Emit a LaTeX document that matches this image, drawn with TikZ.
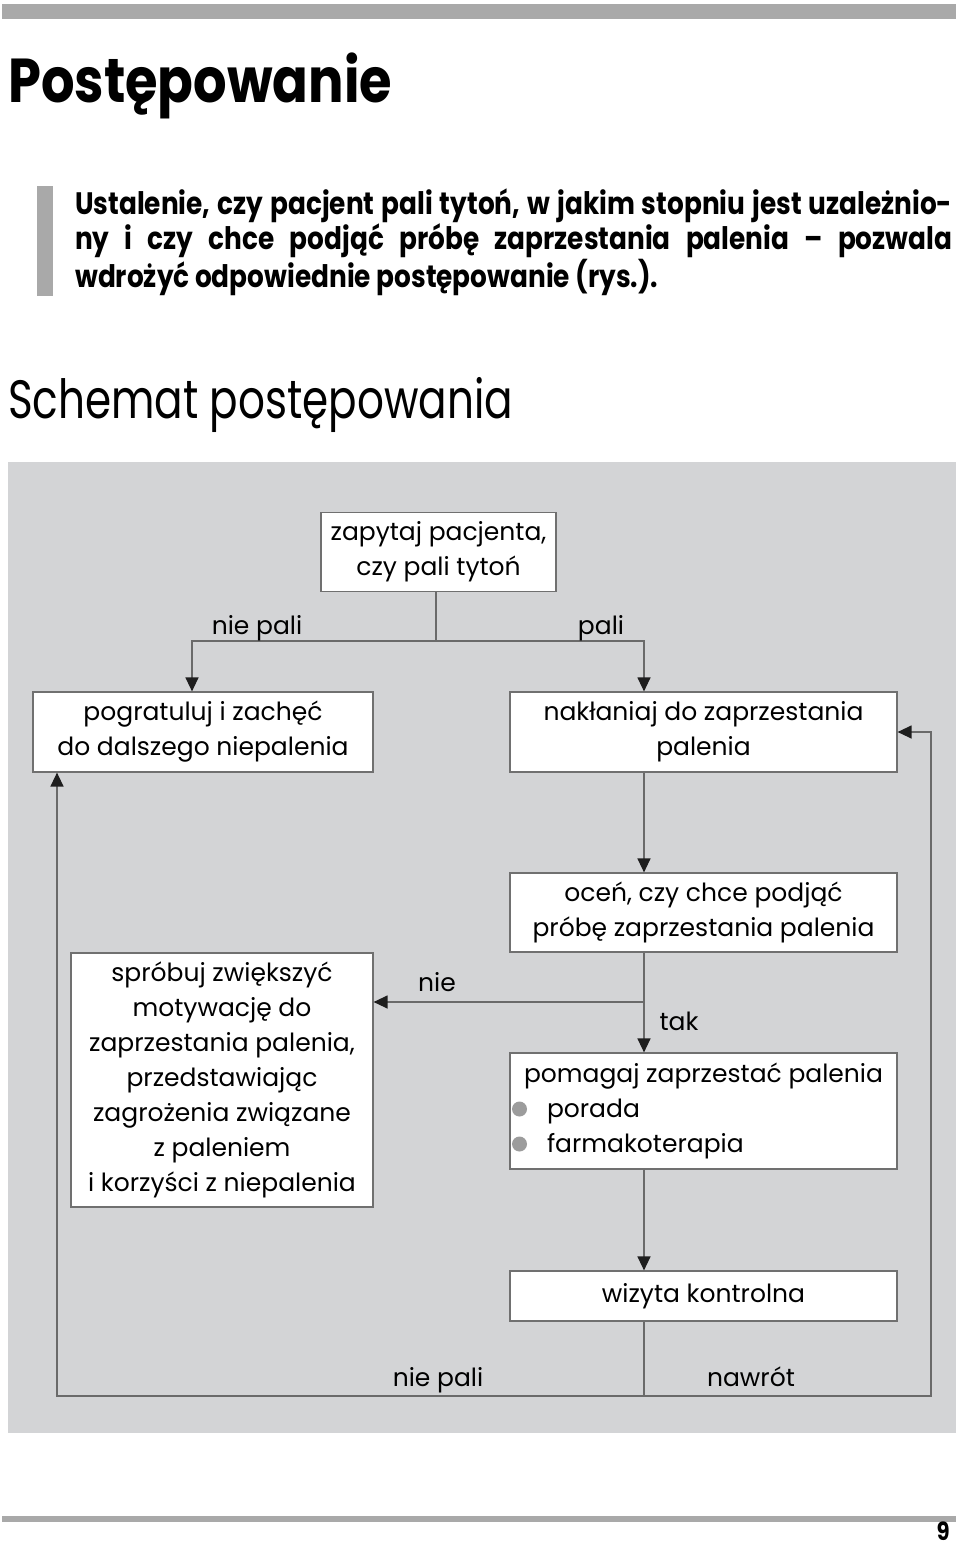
\documentclass[tikz,border=0pt]{standalone}
\usepackage{fontspec}
\setmainfont{Poppins}
\newfontfamily\condfont{Poppins}[FakeStretch=0.85]
\newfontfamily\narrowfont{Poppins}[FakeStretch=0.78]
\usepackage{tikz}
\usetikzlibrary{arrows.meta}
\definecolor{panelgray}{HTML}{D3D4D6}
\definecolor{rulegray}{HTML}{A9A9A9}
\definecolor{linegray}{HTML}{6A6A6A}
\definecolor{boxgray}{HTML}{707070}
\definecolor{tipblack}{HTML}{1E1E1E}
\definecolor{bulletgray}{HTML}{9C9C9C}
\newcommand{\diagfont}{\fontsize{25}{35}\selectfont}
\newcommand{\dotitem}{\hspace*{-12pt}\raisebox{1pt}{\tikz\fill[bulletgray] (0,0) circle (7.5pt);}\hspace{20pt}}

\begin{document}
\begin{tikzpicture}[x=1pt, y=-1pt,
  box/.style={draw=boxgray, fill=white, line width=1.2pt, inner sep=0pt,
              align=center, font=\diagfont},
  link/.style={draw=linegray, line width=1.3pt},
  arrow/.style={link, -{Triangle[length=14pt, width=13pt, color=tipblack]}},
  label/.style={font=\diagfont, anchor=base},
]
\useasboundingbox (0,0) rectangle (960,1549);

% page decoration
\fill[rulegray] (2,4) rectangle (956,19);
\node[anchor=base west, inner sep=0pt, font=\condfont\bfseries\fontsize{62}{70}\selectfont]
  (title) at (8,103) {Postępowanie};
\fill[rulegray] (37,186) rectangle (53,296);
\node[anchor=north west, inner sep=0pt, align=left,
      font=\condfont\bfseries\fontsize{31}{35}\selectfont] (intro) at (75,189) {%
  \makebox[877pt][s]{Ustalenie, czy pacjent pali tytoń, w jakim stopniu jest uzależnio-}\\
  \makebox[877pt][s]{ny i czy chce podjąć próbę zaprzestania palenia – pozwala}\\
  wdrożyć odpowiednie postępowanie (rys.).};
\node[anchor=base west, inner sep=0pt, font=\narrowfont\fontsize{54}{60}\selectfont]
  (heading) at (8,418) {Schemat postępowania};

\fill[panelgray] (8,462) rectangle (956,1433);

% boxes
\node[box, minimum width=235pt, minimum height=79pt] (ask) at (438.5,552)
  {zapytaj pacjenta,\\ czy pali tytoń};
\node[box, minimum width=340pt, minimum height=80pt] (congrat) at (203,732)
  {pogratuluj i zachęć\\ do dalszego niepalenia};
\node[box, minimum width=387pt, minimum height=80pt] (urge) at (703.5,732)
  {nakłaniaj do zaprzestania\\ palenia};
\node[box, minimum width=387pt, minimum height=79pt] (assess) at (703.5,912.5)
  {oceń, czy chce podjąć\\ próbę zaprzestania palenia};
\node[box, minimum width=302pt, minimum height=254pt] (motivate) at (222,1080)
  {spróbuj zwiększyć\\ motywację do\\ zaprzestania palenia,\\ przedstawiając\\
   zagrożenia związane\\ z paleniem\\ i korzyści z niepalenia};
\node[box, minimum width=387pt, minimum height=116pt, align=left] (help) at (703.5,1111)
  {pomagaj zaprzestać palenia\\ \dotitem porada\\ \dotitem farmakoterapia};
\node[box, minimum width=387pt, minimum height=50pt] (visit) at (703.5,1296)
  {wizyta kontrolna};

% connectors
\coordinate (fork) at (436,641);
\coordinate (spine) at (644,0);
\coordinate (nobranch) at (644,1002);
\coordinate (loop) at (644,1396);
\coordinate (relapse) at (931,1396);
\draw[link] (ask.south -| fork) -- (fork);
\draw[arrow] (fork) -| ([xshift=-11pt]congrat.north);
\draw[arrow] (fork) -| (urge.north -| spine);
\draw[arrow] (urge.south -| spine) -- (assess.north -| spine);
\draw[arrow] (assess.south -| spine) -- (help.north -| spine);
\draw[arrow] (nobranch) -- (motivate.east |- nobranch);
\draw[arrow] (help.south -| spine) -- (visit.north -| spine);
\draw[link] (visit.south -| spine) -- (loop);
\draw[arrow] (loop) -| ([xshift=-146pt]congrat.south);
\draw[arrow] (loop) -- (relapse) |- (urge.east);

% labels
\node[label] (lnonsmoker) at (257,634) {nie pali};
\node[label] (lsmoker) at (601,634) {pali};
\node[label] (lno) at (437,991) {nie};
\node[label] (lyes) at (679,1030) {tak};
\node[label] (lquit) at (438,1386) {nie pali};
\node[label] (lrelapse) at (751,1386) {nawrót};

\fill[rulegray] (2,1516) rectangle (956,1522);
\node[anchor=base east, inner sep=0pt, font=\condfont\bfseries\fontsize{25}{30}\selectfont]
  (pageno) at (950,1540) {9};
\end{tikzpicture}
\end{document}
